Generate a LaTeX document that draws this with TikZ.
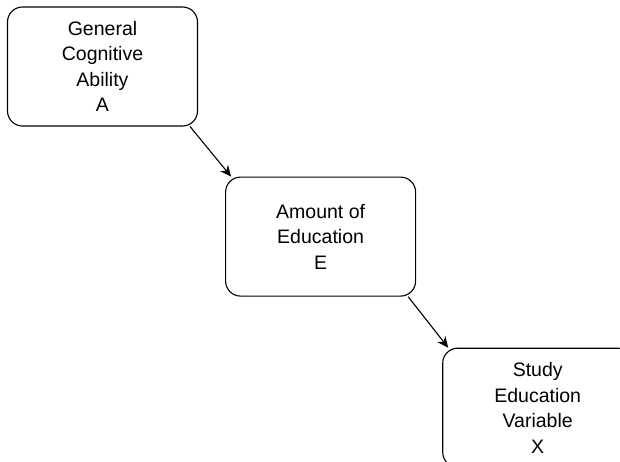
\documentclass[tikz,border=0pt]{standalone}
\usepackage{fontspec}
\setmainfont{Liberation Sans}
\usetikzlibrary{arrows.meta,positioning,calc}

\begin{document}
\begin{tikzpicture}[
    x=1pt, y=-1pt,
    node distance=50pt and 27pt,
    box/.style={draw, line width=1.1pt, rounded corners=15pt, align=center,
      minimum width=190pt, minimum height=119pt, inner sep=0pt,
      font=\fontsize{19.5}{25.5}\selectfont},
    arr/.style={-{Stealth[length=11pt,width=10pt,inset=3.5pt]}, line width=1.1pt}
  ]
    \useasboundingbox (0,0) rectangle (620,462);
    \clip (0,0) rectangle (620,462);

    \node[box] (a) at (102.5,66.5) {General\\Cognitive\\Ability\\A};
    \node[box, below right=of a] (b) {Amount of\\Education\\E};
    \node[box, below right=51pt and 26pt of b] (c) {Study\\Education\\Variable\\X};

    \draw[arr] ($(a.south east)+(-8,0)$) -- ($(b.north west)+(6,0)$);
    \draw[arr] ($(b.south east)+(-8,0)$) -- ($(c.north west)+(6,0)$);
  \end{tikzpicture}
\end{document}
